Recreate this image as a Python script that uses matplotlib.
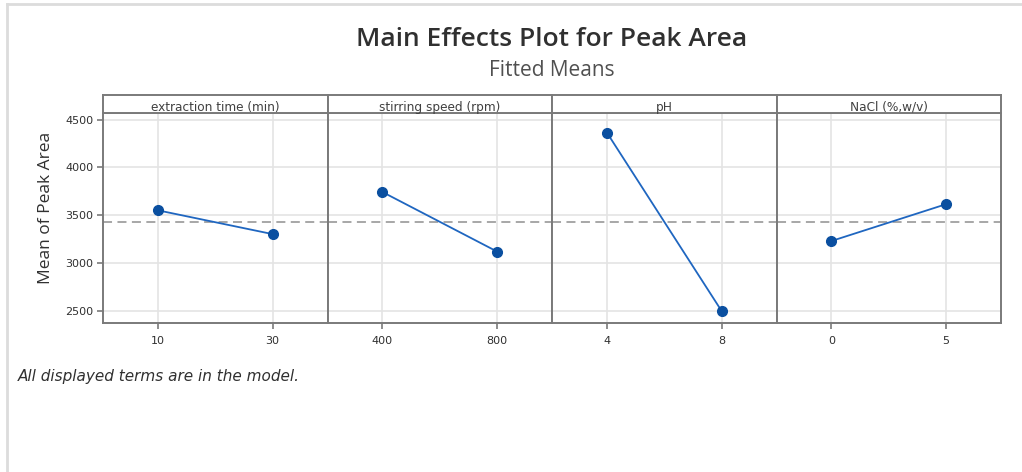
import matplotlib
matplotlib.use("Agg")
import matplotlib.pyplot as plt
from matplotlib.lines import Line2D

# Fitted means for each factor at its two levels
factors = ["extraction time (min)", "stirring speed (rpm)", "pH", "NaCl (%,w/v)"]
levels = [["10", "30"], ["400", "800"], ["4", "8"], ["0", "5"]]
means = [[3552, 3304], [3743, 3122], [4362, 2503], [3232, 3616]]
grand_mean = 3430
yticks = [2500, 3000, 3500, 4000, 4500]

plt.rcParams['font.family'] = ['Open Sans', 'DejaVu Sans']

W, H = 1022, 472
fig = plt.figure(figsize=(W / 100, H / 100), dpi=100)

# light window frame along top and left
fig.add_artist(Line2D([7 / W, 7 / W], [0, 1 - 4 / H], color='#dcdcdc', lw=2))
fig.add_artist(Line2D([7 / W, 1], [1 - 4 / H, 1 - 4 / H], color='#dcdcdc', lw=2))

fig.text(552 / W, 1 - 40 / H, "Main Effects Plot for Peak Area", ha='center', va='center',
         fontsize=19, fontweight='semibold', color='#303030')
fig.text(552 / W, 1 - 71 / H, "Fitted Means", ha='center', va='center',
         fontsize=15, color='#505050')

left, right = 103 / W, 1001 / W
bottom, top = 1 - 323 / H, 1 - 113 / H
strip_top = 1 - 95 / H
pw = (right - left) / len(factors)
spine_col = '#7a7a7a'
small_font = 'DejaVu Sans'

for i, name in enumerate(factors):
    x0 = left + i * pw
    ax = fig.add_axes([x0, bottom, pw, top - bottom])
    ax.plot([0, 1], means[i], color='#1f66c0', lw=1.3, marker='o', ms=7,
            mfc='#0a4fa0', mec='#0a4fa0', zorder=3)
    ax.axhline(grand_mean, color='#a0a0a0', lw=1.3, ls=(0, (5, 3)), zorder=2)
    ax.set_xlim(-0.48, 1.48)
    ax.set_ylim(2376, 4568)
    ax.set_xticks([0, 1])
    ax.set_xticklabels(levels[i], family=small_font)
    ax.set_yticks(yticks)
    ax.set_yticklabels([str(v) for v in yticks], family=small_font)
    ax.grid(True, color='#e4e4e4', lw=1.2, zorder=0)
    ax.set_axisbelow(True)
    for s in ax.spines.values():
        s.set_color(spine_col)
        s.set_linewidth(1.4)
    ax.tick_params(axis='both', colors=spine_col, labelcolor='#303030', labelsize=8,
                   length=4, width=1.2)
    ax.tick_params(axis='x', pad=5)
    ax.tick_params(axis='y', pad=3)
    if i == 0:
        ax.set_ylabel("Mean of Peak Area", fontsize=12.5, color='#303030')
        ax.yaxis.set_label_coords(-0.22, 0.55)
    else:
        ax.tick_params(axis='y', left=False, labelleft=False)

    # factor name strip above each panel
    sx = fig.add_axes([x0, top, pw, strip_top - top])
    sx.set_xticks([])
    sx.set_yticks([])
    for s in sx.spines.values():
        s.set_color(spine_col)
        s.set_linewidth(1.4)
    sx.text(0.5, 0.32, name, ha='center', va='center', fontsize=8.7, color='#404040',
            family=small_font, transform=sx.transAxes)

fig.text(18 / W, 1 - 377 / H, "All displayed terms are in the model.", ha='left', va='center',
         fontsize=11, style='italic', color='#303030', family=small_font)

fig.savefig("out.png", dpi=100)
